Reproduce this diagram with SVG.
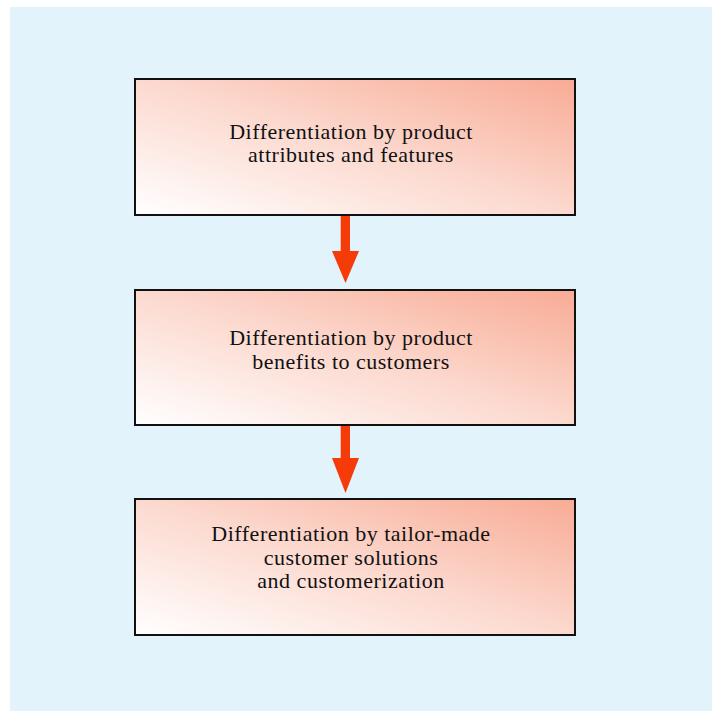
<svg xmlns="http://www.w3.org/2000/svg" width="712" height="711" viewBox="0 0 712 711">
<defs>
<linearGradient id="g" x1="0" y1="1" x2="1" y2="0">
<stop offset="0" stop-color="#ffffff"/>
<stop offset="0.5" stop-color="#fcd9cf"/>
<stop offset="1" stop-color="#f8ab94"/>
</linearGradient>
<style>
.box{fill:url(#g);stroke:#111;stroke-width:2}
.t{font-family:"Liberation Serif","Times New Roman",serif;font-size:22px;letter-spacing:0.5px;fill:#111;text-anchor:middle}
.arr{fill:#f43b08}
</style>
</defs>
<rect x="10" y="7" width="702" height="704" fill="#e3f3fb"/>
<g id="connectors">
<path class="arr" d="M340.7 216 H350 V251 H359 L345.5 283 L332 251 H340.7 Z"/>
<path class="arr" d="M340.7 425 H350 V458 H359 L345.5 493 L332 458 H340.7 Z"/>
</g>
<g id="node1">
<rect class="box" x="135" y="79" width="440" height="136"/>
<text class="t" x="351" y="139">Differentiation by product</text>
<text class="t" x="351" y="162">attributes and features</text>
</g>
<g id="node2">
<rect class="box" x="135" y="290" width="440" height="135"/>
<text class="t" x="351" y="345">Differentiation by product</text>
<text class="t" x="351" y="369">benefits to customers</text>
</g>
<g id="node3">
<rect class="box" x="135" y="499" width="440" height="136"/>
<text class="t" x="351" y="541">Differentiation by tailor-made</text>
<text class="t" x="351" y="565">customer solutions</text>
<text class="t" x="351" y="588">and customerization</text>
</g>
</svg>
